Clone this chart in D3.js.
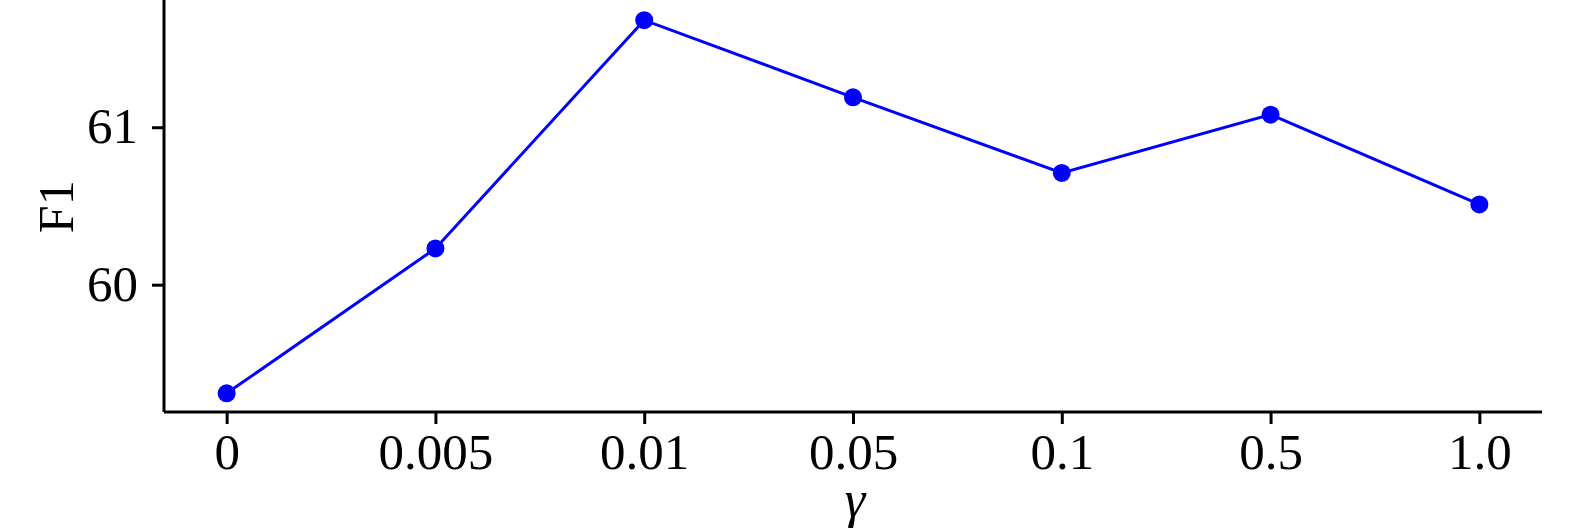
<!DOCTYPE html>
<html><head><meta charset="utf-8">
<script src="https://cdn.jsdelivr.net/npm/d3@7"></script>
<style>html,body{margin:0;padding:0;background:#fff;overflow:hidden}</style>
</head><body>
<svg id="c" width="1575" height="532"></svg>
<script>
const categories = ["0", "0.005", "0.01", "0.05", "0.1", "0.5", "1.0"];
const f1Values = [59.31, 60.23, 61.68, 61.19, 60.71, 61.08, 60.51];
const yTicks = [60, 61];

(function () {
const svg = d3.select("#c");
const mLeft = 164, mRight = 1542, mTop = 1.5, mBottom = 412;
const font = "'Liberation Serif','Times New Roman',serif";

const x = d3.scaleLinear().domain([-0.3, 6.3]).range([mLeft, mRight]);
const ymin = d3.min(f1Values), ymax = d3.max(f1Values), pad = (ymax - ymin) * 0.05;
const y = d3.scaleLinear().domain([ymin - pad, ymax + pad]).range([mBottom, mTop]);

const xAxis = d3.axisBottom(x).tickValues(d3.range(categories.length))
  .tickFormat(i => categories[i]).tickSize(12).tickPadding(9).tickSizeOuter(0);
const yAxis = d3.axisLeft(y).tickValues(yTicks).tickFormat(d3.format("d"))
  .tickSize(12).tickPadding(14).tickSizeOuter(0);

const gx = svg.append("g").attr("transform", `translate(0,${mBottom})`).call(xAxis);
const gy = svg.append("g").attr("transform", `translate(${mLeft},0)`).call(yAxis);
[gx, gy].forEach(g => {
  g.select(".domain").attr("stroke", "#000").attr("stroke-width", 3);
  g.selectAll(".tick line").attr("stroke", "#000").attr("stroke-width", 3);
  g.selectAll(".tick text").attr("fill", "#000").style("font-family", font).style("font-size", "51px");
});
gy.selectAll(".tick text").attr("dy", "0.30em");
gy.select(".domain").attr("d", `M0,${mBottom}V-5`);
gx.select(".domain").attr("d", `M${mLeft},0H${mRight}`);

const line = d3.line().x((d, i) => x(i)).y(d => y(d));
svg.append("path").datum(f1Values).attr("d", line)
  .attr("fill", "none").attr("stroke", "#0000ff").attr("stroke-width", 3);
svg.selectAll("circle.pt").data(f1Values).join("circle").attr("class", "pt")
  .attr("cx", (d, i) => x(i)).attr("cy", d => y(d)).attr("r", 9).attr("fill", "#0000ff");

svg.append("text").attr("transform", `translate(73,${(mBottom + mTop) / 2}) rotate(-90)`)
  .attr("text-anchor", "middle").style("font-family", font).style("font-size", "50px").text("F1");
svg.append("text").attr("x", (mLeft + mRight) / 2 + 2).attr("y", 517).attr("text-anchor", "middle")
  .style("font-family", font).style("font-size", "52px").style("font-style", "italic").text("γ");
})();
</script>
</body></html>
